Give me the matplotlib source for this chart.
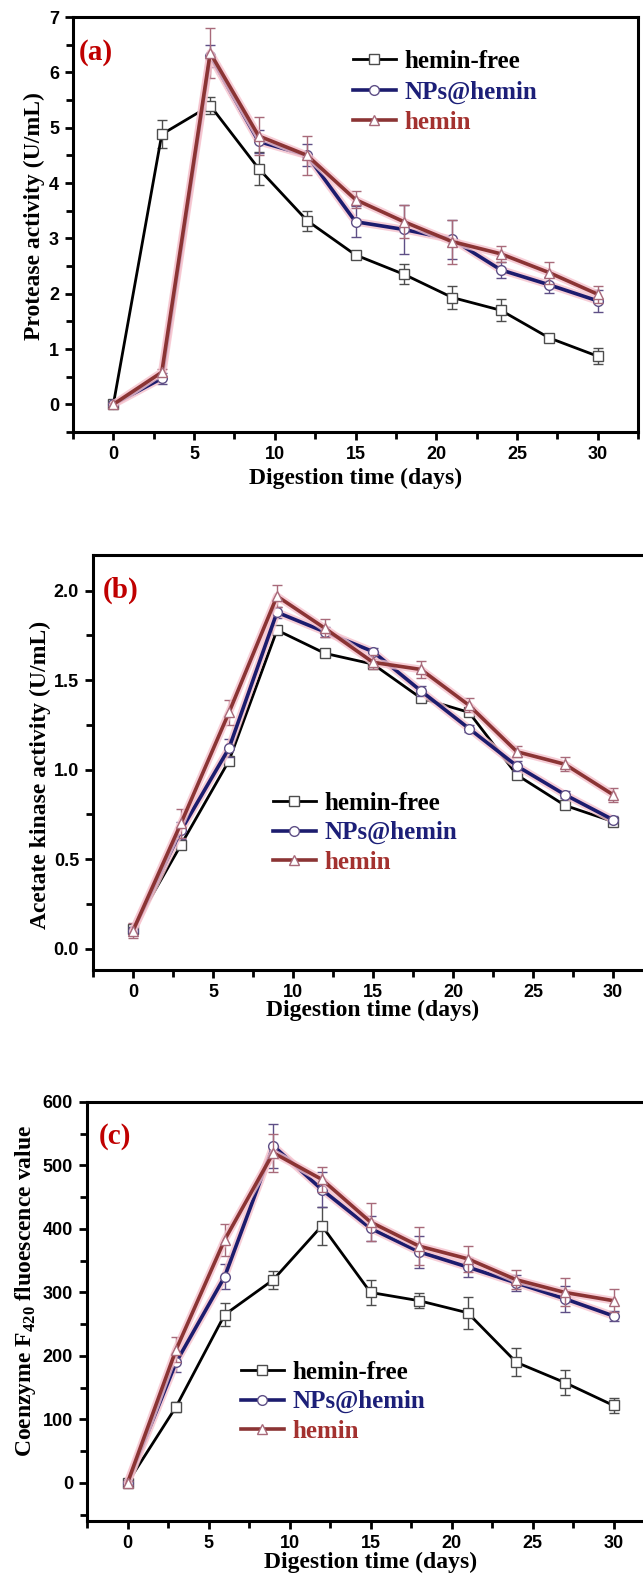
"""
Hemin / NPs@hemin digestion curves: protease, acetate kinase, coenzyme F420
"""
import numpy as np
import matplotlib
matplotlib.use('Agg')
import matplotlib.pyplot as plt
from matplotlib.ticker import MultipleLocator

plt.rcParams['mathtext.fontset'] = 'custom'
plt.rcParams['mathtext.rm'] = 'Liberation Serif:bold'
plt.rcParams['mathtext.bf'] = 'Liberation Serif:bold'

# digestion time (days)
days = [0, 3, 6, 9, 12, 15, 18, 21, 24, 27, 30]
series_names = ['hemin-free', 'NPs@hemin', 'hemin']

# (a) protease activity (U/mL)
prot_free = [0.0, 4.88, 5.40, 4.26, 3.32, 2.70, 2.35, 1.93, 1.70, 1.20, 0.87]
prot_free_err = [0.03, 0.25, 0.15, 0.30, 0.18, 0.05, 0.18, 0.20, 0.20, 0.05, 0.15]
prot_nps = [0.0, 0.47, 6.30, 4.75, 4.50, 3.30, 3.16, 2.98, 2.43, 2.16, 1.87]
prot_nps_err = [0.03, 0.10, 0.20, 0.20, 0.20, 0.28, 0.45, 0.35, 0.15, 0.15, 0.20]
prot_hemin = [0.0, 0.58, 6.35, 4.85, 4.50, 3.70, 3.30, 2.94, 2.72, 2.38, 1.99]
prot_hemin_err = [0.03, 0.06, 0.45, 0.35, 0.35, 0.15, 0.30, 0.40, 0.15, 0.20, 0.15]

# (b) acetate kinase activity (U/mL)
ak_free = [0.11, 0.58, 1.05, 1.78, 1.65, 1.59, 1.40, 1.32, 0.97, 0.80, 0.71]
ak_free_err = [0.02, 0.02, 0.02, 0.02, 0.01, 0.01, 0.02, 0.02, 0.02, 0.01, 0.01]
ak_nps = [0.10, 0.66, 1.12, 1.88, 1.77, 1.66, 1.44, 1.23, 1.02, 0.86, 0.72]
ak_nps_err = [0.02, 0.05, 0.05, 0.03, 0.03, 0.02, 0.03, 0.02, 0.03, 0.02, 0.02]
ak_hemin = [0.10, 0.70, 1.32, 1.97, 1.79, 1.60, 1.56, 1.36, 1.10, 1.03, 0.86]
ak_hemin_err = [0.04, 0.08, 0.07, 0.06, 0.05, 0.04, 0.05, 0.04, 0.03, 0.04, 0.04]

# (c) coenzyme F420 fluorescence
f420_free = [0, 120, 265, 320, 405, 300, 287, 268, 190, 158, 122]
f420_free_err = [3, 8, 18, 14, 30, 20, 12, 25, 22, 20, 12]
f420_nps = [0, 190, 325, 531, 462, 401, 364, 340, 315, 290, 263]
f420_nps_err = [3, 15, 20, 35, 28, 20, 25, 15, 12, 20, 8]
f420_hemin = [0, 210, 383, 520, 478, 411, 373, 353, 320, 300, 287]
f420_hemin_err = [3, 20, 25, 30, 20, 30, 30, 20, 15, 22, 18]

W, H = 643, 1575
line_colors = ['black', '#1c1c6e', '#8b3434']
edge_colors = ['#4d4d4d', '#5e4f86', '#a86a7a']
text_colors = ['black', '#1c1f78', '#a3312f']
markers = ['s', 'o', '^']
lws = [2.0, 2.6, 2.6]

# pixel boxes (left, top, right, bottom); (b) and (c) run past the right edge
panels = [
    dict(box=(73, 17, 638, 432), ylim=(-0.5, 7), major=1, minor=0.5, fmt='{:.0f}',
         ylabel='Protease activity (U/mL)', ylab_x=45, ylab_y=0.52, tag='(a)', tag_xy=(79, 53),
         leg_xy=(353, 50), leg_sp=0.3, xlab_y=478,
         data=[(prot_free, prot_free_err), (prot_nps, prot_nps_err), (prot_hemin, prot_hemin_err)]),
    dict(box=(93, 555, 653, 970), ylim=(-0.12, 2.2), major=0.5, minor=0.25, fmt='{:.1f}',
         ylabel='Acetate kinase activity (U/mL)', ylab_x=51, ylab_y=0.47, tag='(b)', tag_xy=(103, 590),
         leg_xy=(273, 792), leg_sp=0.25, xlab_y=1010,
         data=[(ak_free, ak_free_err), (ak_nps, ak_nps_err), (ak_hemin, ak_hemin_err)]),
    dict(box=(87, 1102, 654, 1521), ylim=(-60, 600), major=100, minor=50, fmt='{:.0f}',
         ylabel='Coenzyme F$_{420}$ fluoescence value', ylab_x=38, ylab_y=0.55, tag='(c)', tag_xy=(99, 1137),
         leg_xy=(241, 1361), leg_sp=0.25, xlab_y=1562,
         data=[(f420_free, f420_free_err), (f420_nps, f420_nps_err), (f420_hemin, f420_hemin_err)]),
]

fig = plt.figure(figsize=(W / 100, H / 100), dpi=100)

for p in panels:
    l, t, r, b = p['box']
    ax = fig.add_axes([l / W, 1 - b / H, (r - l) / W, (b - t) / H])
    ax.set_xlim(-2.5, 32.5)
    ax.set_ylim(*p['ylim'])

    handles = []
    for i, (vals, errs) in enumerate(p['data']):
        ax.errorbar(days, vals, yerr=errs, fmt='none', ecolor=edge_colors[i],
                    elinewidth=1.0, capsize=3.5, capthick=1.0, zorder=2 + 2 * i)
        if i > 0:
            # soft pink glow under the coloured lines
            ax.plot(days, vals, color='#f5c2cd', lw=lws[i] + 3, alpha=0.8,
                    solid_capstyle='round', zorder=2 + 2 * i)
        h, = ax.plot(days, vals, color=line_colors[i], lw=lws[i], marker=markers[i],
                     ms=7, mfc='white', mec=edge_colors[i], mew=1.0, zorder=3 + 2 * i,
                     label=series_names[i])
        handles.append(h)

    # ticks and spines
    ax.xaxis.set_minor_locator(MultipleLocator(2.5))
    ax.yaxis.set_minor_locator(MultipleLocator(p['minor']))
    ax.tick_params(which='both', direction='out', width=2, top=False, right=False)
    ax.tick_params(which='major', length=6, labelsize=13, pad=4)
    ax.tick_params(which='minor', length=5)
    ax.set_xticks(np.arange(0, 31, 5))
    ax.set_xticklabels([str(v) for v in range(0, 31, 5)])
    yt = np.arange(0, p['ylim'][1] + 1e-9, p['major'])
    ax.set_yticks(yt)
    ax.set_yticklabels([p['fmt'].format(v) for v in yt])
    for lab in ax.get_xticklabels() + ax.get_yticklabels():
        lab.set_fontfamily('Liberation Sans')
        lab.set_fontweight('bold')
    for s in ax.spines.values():
        s.set_linewidth(2.2)

    ax.set_ylabel(p['ylabel'], fontsize=17, fontweight='bold', family='Liberation Serif')
    ax.yaxis.set_label_coords((p['ylab_x'] - l) / (r - l), p['ylab_y'])
    # x label centred under day 15
    x15 = ax.transData.transform((15, 0))[0]
    fig.text(x15 / W, 1 - p['xlab_y'] / H, 'Digestion time (days)',
             fontsize=17, fontweight='bold', family='Liberation Serif', ha='center', va='center')

    fig.text(p['tag_xy'][0] / W, 1 - p['tag_xy'][1] / H, p['tag'], color='#c00000',
             fontsize=21, fontweight='bold', family='Liberation Serif', ha='left', va='center')

    lx, ly = p['leg_xy']
    leg = ax.legend(handles=handles, loc='upper left',
                    bbox_to_anchor=((lx - l) / (r - l), 1 - (ly - t) / (b - t)),
                    frameon=False, borderaxespad=0, borderpad=0, handlelength=1.7,
                    handletextpad=0.35, labelspacing=p['leg_sp'],
                    prop={'family': 'Liberation Serif', 'weight': 'bold', 'size': 18})
    for txt, c in zip(leg.get_texts(), text_colors):
        txt.set_color(c)

fig.savefig('out.png', dpi=100)
